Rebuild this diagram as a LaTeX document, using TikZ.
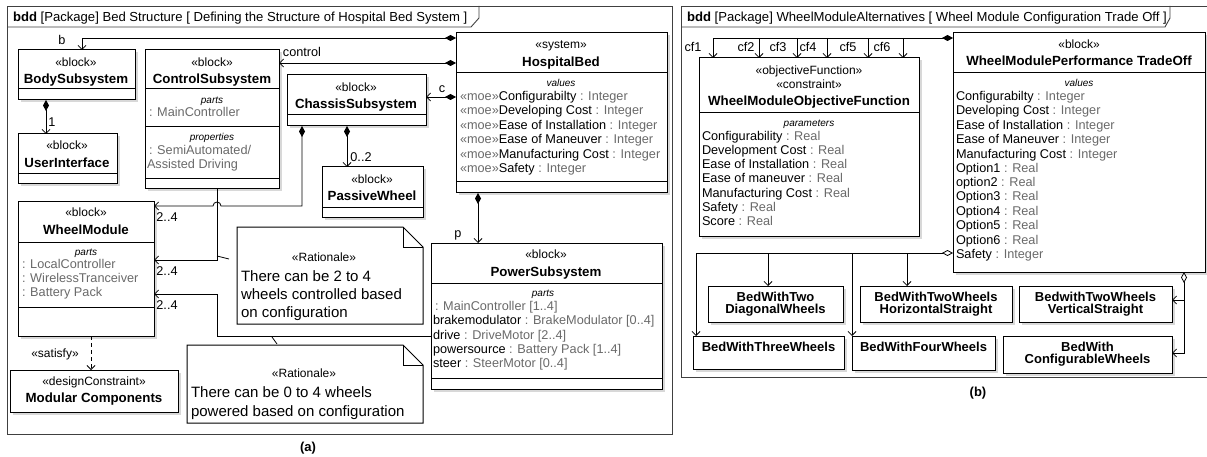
\documentclass[tikz,border=0pt]{standalone}
\usepackage{fontspec}
\setmainfont{Liberation Sans}
\usetikzlibrary{arrows.meta,fit,shadows,calc}
\definecolor{tgray}{HTML}{6A6A6A}
\newcommand\ty[1]{\textcolor{tgray}{#1}}
\newcommand\fsz[1]{\fontsize{#1}{#1}\selectfont}
\begin{document}
\begin{tikzpicture}[x=1pt,y=-1pt,
  every node/.style={inner sep=0pt, outer sep=0pt},
  box/.style={draw, line width=1pt, fill=white, drop shadow={shadow xshift=2.5pt,shadow yshift=-2.5pt,opacity=0.3}},
  plainbox/.style={draw=none},
  sepl/.style={line width=1pt},
  frm/.style={draw=black!75, line width=0.9pt},
  st/.style={font=\fsz{12}, text height=9pt, text depth=0.5pt},
  nm/.style={font=\bfseries\fsz{13.3}, text height=9.5pt, text depth=0.5pt},
  sec/.style={font=\itshape\fsz{10}, text height=7pt, text depth=0pt},
  it/.style={font=\fsz{12.7}, anchor=west, text height=9.5pt, text depth=0.5pt},
  lbl/.style={font=\fsz{12.7}, text height=9.5pt, text depth=0.5pt},
  ttl/.style={font=\fsz{13.1}, anchor=west, text height=9.5pt, text depth=0.5pt},
  nt/.style={font=\fsz{15}, anchor=west, text height=11pt, text depth=0.5pt},
  con/.style={line width=0.8pt},
  arr/.style={con, -{Straight Barb[length=4pt,width=8pt]}},
  comp/.style={con, {Diamond[length=11pt,width=6pt]}-{Straight Barb[length=4pt,width=8pt]}},
  compb/.style={con, {Diamond[length=11pt,width=6pt]}-},
  agg/.style={con, {Diamond[fill=white,length=11pt,width=6pt]}-{Straight Barb[length=4pt,width=8pt]}},
]
\fill[white] (0,0) rectangle (1207,457);
\useasboundingbox (0,0) rectangle (1207,457);

% ================= LEFT FRAME =================
\draw[frm] (7,6) rectangle (672,434);
\draw[frm] (7,27) -- (471,27) -- (479,18) -- (479,6);
\node[ttl] (ttla) at (13,17) {\textbf{bdd} [Package] Bed Structure [ Defining the Structure of Hospital Bed System ]};

% BodySubsystem
\node[box, fit={(18,50)(135,100)}] (body) {};
\draw[sepl] (18,89) -- (135,89);
\node[st] (bodys) at (76,62) {«block»};
\node[nm] (bodyn) at (76,79) {BodySubsystem};

% UserInterface
\node[box, fit={(18,134)(117,184)}] (ui) {};
\draw[sepl] (18,174) -- (117,174);
\node[st] (uis) at (67,145) {«block»};
\node[nm] (uin) at (67,163) {UserInterface};

% ControlSubsystem
\node[box, fit={(145,50)(279,189)}] (ctrl) {};
\draw[sepl] (145,89) -- (279,89);
\draw[sepl] (145,127) -- (279,127);
\draw[sepl] (145,179) -- (279,179);
\node[st] (ctrls) at (212,62) {«block»};
\node[nm] (ctrln) at (212,79) {ControlSubsystem};
\node[sec] (ctrlp) at (212,100) {parts};
\node[it] (ctrl1) at (149,112) {\ty{: MainController}};
\node[sec] (ctrlq) at (212,137) {properties};
\node[it] (ctrl2) at (149,150) {\ty{: SemiAutomated/}};
\node[it] (ctrl3) at (147,164) {\ty{Assisted Driving}};

% ChassisSubsystem
\node[box, fit={(287,75)(426,126)}] (chassis) {};
\draw[sepl] (287,115) -- (426,115);
\node[st] (chs) at (356,87) {«block»};
\node[nm] (chn) at (356,104) {ChassisSubsystem};

% PassiveWheel
\node[box, fit={(322,167)(423,218)}] (pwheel) {};
\draw[sepl] (322,208) -- (423,208);
\node[st] (pws) at (372,179) {«block»};
\node[nm] (pwn) at (372,196) {PassiveWheel};

% HospitalBed
\node[box, fit={(456,33)(667,193)}] (hb) {};
\draw[sepl] (456,73) -- (667,73);
\draw[sepl] (456,182) -- (667,182);
\node[st] (hbs) at (561,44) {«system»};
\node[nm] (hbn) at (561,62) {HospitalBed};
\node[sec] (hbv) at (561,83) {values};
\node[it] (hb1) at (460,96) {\ty{«moe»}Configurabilty \ty{: Integer}};
\node[it] (hb2) at (460,110) {\ty{«moe»}Developing Cost \ty{: Integer}};
\node[it] (hb3) at (460,125) {\ty{«moe»}Ease of Installation \ty{: Integer}};
\node[it] (hb4) at (460,139) {\ty{«moe»}Ease of Maneuver \ty{: Integer}};
\node[it] (hb5) at (460,154) {\ty{«moe»}Manufacturing Cost \ty{: Integer}};
\node[it] (hb6) at (460,168) {\ty{«moe»}Safety \ty{: Integer}};

% WheelModule
\node[box, fit={(18,202)(154,336)}] (wm) {};
\draw[sepl] (18,242) -- (154,242);
\draw[sepl] (18,307) -- (154,307);
\node[st] (wms) at (86,212) {«block»};
\node[nm] (wmn) at (86,230) {WheelModule};
\node[sec] (wmp) at (86,252) {parts};
\node[it] (wm1) at (22,264) {\ty{: LocalController}};
\node[it] (wm2) at (22,278) {\ty{: WirelessTranceiver}};
\node[it] (wm3) at (22,292) {\ty{: Battery Pack}};

% Modular Components
\node[box, fit={(10,370)(178,412)}] (mod) {};
\node[st] (mods) at (94,381) {«designConstraint»};
\node[nm] (modn) at (94,398) {Modular Components};

% Rationale notes
\node[plainbox, fit={(237,227)(423,324)}] (note1) {};
\draw[line width=1pt, fill=white] (note1.north west) -- ($(note1.north east)+(-20,0)$) -- ($(note1.north east)+(0,20)$) -- (note1.south east) -- (note1.south west) -- cycle;
\draw[line width=0.8pt] ($(note1.north east)+(-20,0)$) -- ($(note1.north east)+(-20,20)$) -- ($(note1.north east)+(0,20)$);
\node[st] (n1s) at (324,257) {«Rationale»};
\node[nt] (n1a) at (241,276) {There can be 2 to 4};
\node[nt] (n1b) at (241,294) {wheels controlled based};
\node[nt] (n1c) at (241,312) {on configuration};

\node[plainbox, fit={(187,345)(423,423)}] (note2) {};
\draw[line width=1pt, fill=white] (note2.north west) -- ($(note2.north east)+(-20,0)$) -- ($(note2.north east)+(0,20)$) -- (note2.south east) -- (note2.south west) -- cycle;
\draw[line width=0.8pt] ($(note2.north east)+(-20,0)$) -- ($(note2.north east)+(-20,20)$) -- ($(note2.north east)+(0,20)$);
\node[st] (n2s) at (304,373) {«Rationale»};
\node[nt] (n2a) at (191,392) {There can be 0 to 4 wheels};
\node[nt] (n2b) at (191,411) {powered based on configuration};

% PowerSubsystem
\node[box, fit={(431,243)(662,389)}] (pw) {};
\draw[sepl] (431,283) -- (662,283);
\draw[sepl] (431,378) -- (662,378);
\node[st] (pws1) at (546,254) {«block»};
\node[nm] (pwn1) at (546,272) {PowerSubsystem};
\node[sec] (pwp) at (543,293) {parts};
\node[it] (pw1) at (435,306) {\ty{: MainController [1..4]}};
\node[it] (pw2) at (433,320) {brakemodulator \ty{: BrakeModulator [0..4]}};
\node[it] (pw3) at (433,335) {drive \ty{: DriveMotor [2..4]}};
\node[it] (pw4) at (433,349) {powersource \ty{: Battery Pack [1..4]}};
\node[it] (pw5) at (433,363) {steer \ty{: SteerMotor [0..4]}};

% ---- left connectors ----
\coordinate (bk) at (82,38);
\draw[comp] (hb.west |- bk) -- (bk) -- (body.north -| bk);
\node[lbl] (lb) at (62,40) {b};
\coordinate (ck0) at (0,63);
\draw[comp] (hb.west |- ck0) -- (ctrl.east |- ck0);
\node[lbl] (lctrl) at (302,52) {control};
\coordinate (cc0) at (0,97);
\draw[comp] (hb.west |- cc0) -- (chassis.east |- cc0);
\node[lbl] (lc) at (442,88) {c};
\coordinate (bu) at (46,0);
\draw[comp] (body.south -| bu) -- (ui.north -| bu);
\node[lbl] (l1) at (52,122) {1};
\coordinate (cpw) at (347,0);
\draw[comp] (chassis.south -| cpw) -- (pwheel.north -| cpw);
\node[lbl] (l02) at (361,157) {0..2};
\coordinate (pk) at (478,0);
\draw[comp] (hb.south -| pk) -- (pw.north -| pk);
\node[lbl] (lp) at (458,233) {p};

\coordinate (ck) at (302,206);
\draw[comp] (chassis.south -| ck) -- (ck) -- (221,206) arc[start angle=0,end angle=180,radius=4pt] -- (wm.east |- ck);
\node[lbl] (l24a) at (167,217) {2..4};
\coordinate (ctk) at (217,260);
\draw[arr] (ctrl.south -| ctk) -- (ctk) -- (wm.east |- ctk);
\node[lbl] (l24b) at (167,271) {2..4};
\coordinate (pk1) at (217,336);
\coordinate (pk2) at (217,294);
\draw[arr] (pw.west |- pk1) -- (pk1) -- (pk2) -- (wm.east |- pk2);
\node[lbl] (l24c) at (167,305) {2..4};
\coordinate (na0) at (217,256);
\coordinate (na1) at (229,259);
\draw[con] (na0) -- (na1);
\coordinate (nb0) at (272,337);
\coordinate (nb1) at (277,344);
\draw[con] (nb0) -- (nb1);
\coordinate (sk) at (91,0);
\draw[arr, dash pattern=on 4pt off 3pt] (wm.south -| sk) -- (mod.north -| sk);
\node[st] (lsat) at (55,353) {«satisfy»};

\node[font=\bfseries\fsz{13}] (capa) at (308,448) {(a)};

% ================= RIGHT FRAME =================
\draw[frm] (1214,6) -- (681,6) -- (681,377) -- (1214,377);
\draw[frm] (681,27) -- (1165,27) -- (1170,18) -- (1170,6);
\node[ttl] (ttlb) at (687,17) {\textbf{bdd} [Package] WheelModuleAlternatives [ Wheel Module Configuration Trade Off ]};

% Objective function
\node[box, fit={(699,58)(919,236)}] (obj) {};
\draw[sepl] (699,113) -- (919,113);
\node[st] (objs1) at (809,70) {«objectiveFunction»};
\node[st] (objs2) at (809,84) {«constraint»};
\node[nm] (objn) at (809,101) {WheelModuleObjectiveFunction};
\node[sec] (objp) at (809,123) {parameters};
\node[it] (ob1) at (702,136) {Configurability \ty{: Real}};
\node[it] (ob2) at (702,150) {Development Cost \ty{: Real}};
\node[it] (ob3) at (702,164) {Ease of Installation \ty{: Real}};
\node[it] (ob4) at (702,178) {Ease of maneuver \ty{: Real}};
\node[it] (ob5) at (702,193) {Manufacturing Cost \ty{: Real}};
\node[it] (ob6) at (702,207) {Safety \ty{: Real}};
\node[it] (ob7) at (702,221) {Score \ty{: Real}};

% Performance trade off
\node[box, fit={(953,33)(1205,272)}] (wmpt) {};
\draw[sepl] (953,73) -- (1205,73);
\node[st] (wps) at (1079,44) {«block»};
\node[nm] (wpn) at (1079,61) {WheelModulePerformance TradeOff};
\node[sec] (wpv) at (1079,83) {values};
\node[it] (wp1) at (956,96) {Configurabilty \ty{: Integer}};
\node[it] (wp2) at (956,110) {Developing Cost \ty{: Integer}};
\node[it] (wp3) at (956,125) {Ease of Installation \ty{: Integer}};
\node[it] (wp4) at (956,139) {Ease of Maneuver \ty{: Integer}};
\node[it] (wp5) at (956,154) {Manufacturing Cost \ty{: Integer}};
\node[it] (wp6) at (956,168) {Option1 \ty{: Real}};
\node[it] (wp7) at (956,182) {option2 \ty{: Real}};
\node[it] (wp8) at (956,196) {Option3 \ty{: Real}};
\node[it] (wp9) at (956,211) {Option4 \ty{: Real}};
\node[it] (wp10) at (956,225) {Option5 \ty{: Real}};
\node[it] (wp11) at (956,240) {Option6 \ty{: Real}};
\node[it] (wp12) at (956,254) {Safety \ty{: Integer}};

% Alternative boxes
\node[box, fit={(708,286)(843,322)}] (diag) {};
\node[nm, align=center, font=\bfseries\fsz{13}, text height=, text depth=] (diagt) at (775.5,304) {BedWithTwo\\[-1.5pt]DiagonalWheels};
\node[box, fit={(860,286)(1012,322)}] (horiz) {};
\node[nm, align=center, font=\bfseries\fsz{13}, text height=, text depth=] (horizt) at (936,304) {BedWithTwoWheels\\[-1.5pt]HorizontalStraight};
\node[box, fit={(1019,286)(1172,322)}] (vert) {};
\node[nm, align=center, font=\bfseries\fsz{13}, text height=, text depth=] (vertt) at (1095.5,304) {BedwithTwoWheels\\[-1.5pt]VerticalStraight};
\node[box, fit={(693,336)(844,369)}] (three) {};
\node[nm, font=\bfseries\fsz{13}] (threet) at (768.5,347) {BedWithThreeWheels};
\node[box, fit={(852,336)(995,370)}] (four) {};
\node[nm, font=\bfseries\fsz{13}] (fourt) at (923.5,347) {BedWithFourWheels};
\node[box, fit={(1003,336)(1172,373)}] (conf) {};
\node[nm, align=center, font=\bfseries\fsz{13}, text height=, text depth=] (conft) at (1087.5,354) {BedWith\\[-1.5pt]ConfigurableWheels};

% ---- right connectors ----
\coordinate (cfa) at (713,38);
\draw[comp] (wmpt.west |- cfa) -- (cfa) -- (obj.north -| cfa);
\foreach \xx/\nn in {759/cfb,797/cfc,827/cfd,868/cfe,903/cff}{
  \coordinate (\nn) at (\xx,38);
  \draw[arr] (\nn) -- (obj.north -| \nn);
}
\node[lbl] (lcf1) at (693,47) {cf1};
\node[lbl] (lcf2) at (746,47) {cf2};
\node[lbl] (lcf3) at (778,47) {cf3};
\node[lbl] (lcf4) at (808,47) {cf4};
\node[lbl] (lcf5) at (848,47) {cf5};
\node[lbl] (lcf6) at (882,47) {cf6};

\coordinate (bb0) at (696,253);
\draw[agg] (wmpt.west |- bb0) -- (bb0) -- (three.north -| bb0);
\coordinate (bb1) at (768,253);
\draw[arr] (bb1) -- (diag.north -| bb1);
\coordinate (bb2) at (852,253);
\draw[arr] (bb2) -- (four.north -| bb2);
\coordinate (bb3) at (907,253);
\draw[arr] (bb3) -- (horiz.north -| bb3);

\coordinate (sv0) at (1184,300);
\coordinate (sv1) at (1184,353);
\draw[agg] (wmpt.south -| sv0) -- (sv1) -- (conf.east |- sv1);
\draw[arr] (sv0) -- (vert.east |- sv0);

\node[font=\bfseries\fsz{13}] (capb) at (978,393) {(b)};
\end{tikzpicture}
\end{document}
